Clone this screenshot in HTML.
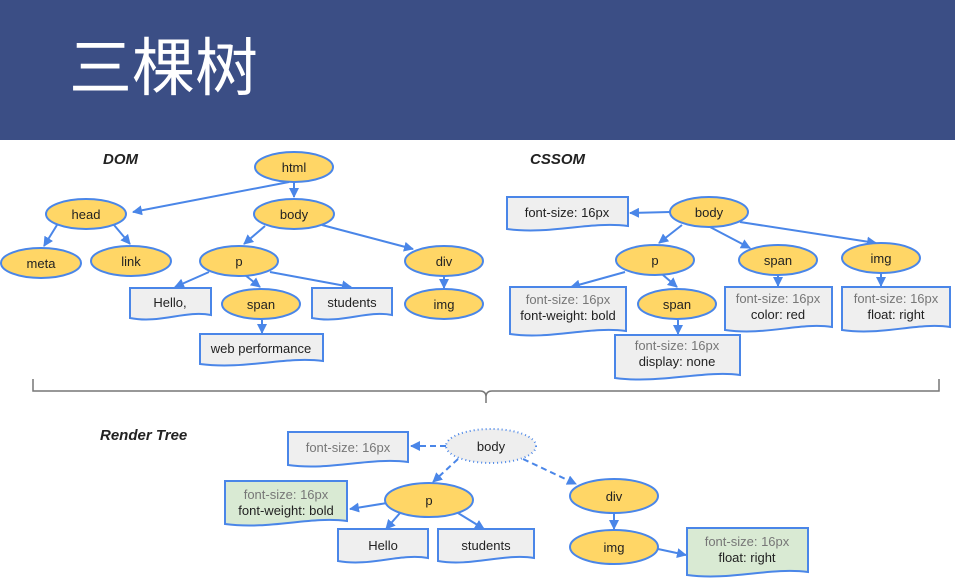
<!DOCTYPE html>
<html><head><meta charset="utf-8"><style>
html,body{margin:0;padding:0;background:#fff;}
svg{display:block;}
text{font-family:"Liberation Sans",Arial,sans-serif;}
</style></head><body>
<svg width="955" height="586" viewBox="0 0 955 586" xmlns="http://www.w3.org/2000/svg">
<defs>
<marker id="a" viewBox="0 0 10 10" refX="9" refY="5" markerWidth="5" markerHeight="5" orient="auto"><path d="M0,0 L10,5 L0,10 z" fill="#4a86e8"/></marker>
</defs>
<rect x="0" y="0" width="955" height="140" fill="#3b4e85"/>
<text x="69" y="90" font-size="63" fill="#fff" style="font-family:'Noto Sans CJK SC',sans-serif">三棵树</text>
<rect x="948" y="140" width="7" height="446" fill="#fff"/>

<g font-size="13" fill="#222" text-anchor="middle">
<g stroke="#4a86e8" stroke-width="2" fill="none" marker-end="url(#a)">
<line x1="289" y1="182" x2="133" y2="212"/>
<line x1="294" y1="182" x2="294" y2="197"/>
<line x1="57" y1="225" x2="44" y2="246"/>
<line x1="114" y1="225" x2="130" y2="244"/>
<line x1="265" y1="226" x2="244" y2="244"/>
<line x1="322" y1="225" x2="413" y2="249"/>
<line x1="209" y1="272" x2="175" y2="287"/>
<line x1="245" y1="275" x2="260" y2="287"/>
<line x1="270" y1="272" x2="351" y2="287"/>
<line x1="444" y1="276" x2="444" y2="288"/>
<line x1="262" y1="320" x2="262" y2="333"/>
<line x1="670" y1="212" x2="630" y2="213"/>
<line x1="682" y1="225" x2="659" y2="243"/>
<line x1="710" y1="227" x2="750" y2="248"/>
<line x1="740" y1="222" x2="876" y2="243"/>
<line x1="625" y1="272" x2="571" y2="287"/>
<line x1="663" y1="275" x2="677" y2="287"/>
<line x1="778" y1="275" x2="778" y2="286"/>
<line x1="881" y1="273" x2="881" y2="286"/>
<line x1="678" y1="320" x2="678" y2="334"/>
<line x1="446" y1="446" x2="411" y2="446" stroke-dasharray="6,4"/>
<line x1="458" y1="459" x2="433" y2="482" stroke-dasharray="6,4"/>
<line x1="523" y1="459" x2="576" y2="484" stroke-dasharray="6,4"/>
<line x1="387" y1="503" x2="350" y2="509"/>
<line x1="400" y1="513" x2="386" y2="529"/>
<line x1="458" y1="513" x2="484" y2="529"/>
<line x1="614" y1="513" x2="614" y2="529"/>
<line x1="658" y1="549" x2="686" y2="555"/>
</g>
<path d="M33,379 V391 H480 Q486,391 486,397 V403 M486,397 Q486,391 492,391 H939 V379" stroke="#777" stroke-width="1.5" fill="none"/>

<g font-style="italic" font-weight="bold" font-size="15" text-anchor="start" fill="#222">
<text x="103" y="164">DOM</text>
<text x="530" y="164">CSSOM</text>
<text x="100" y="440">Render Tree</text>
</g>

<g fill="#ffd666" stroke="#4a86e8" stroke-width="2">
<ellipse cx="294" cy="167" rx="39" ry="15"/>
<ellipse cx="86" cy="214" rx="40" ry="15"/>
<ellipse cx="294" cy="214" rx="40" ry="15"/>
<ellipse cx="41" cy="263" rx="40" ry="15"/>
<ellipse cx="131" cy="261" rx="40" ry="15"/>
<ellipse cx="239" cy="261" rx="39" ry="15"/>
<ellipse cx="444" cy="261" rx="39" ry="15"/>
<ellipse cx="261" cy="304" rx="39" ry="15"/>
<ellipse cx="444" cy="304" rx="39" ry="15"/>
<ellipse cx="709" cy="212" rx="39" ry="15"/>
<ellipse cx="655" cy="260" rx="39" ry="15"/>
<ellipse cx="778" cy="260" rx="39" ry="15"/>
<ellipse cx="881" cy="258" rx="39" ry="15"/>
<ellipse cx="677" cy="304" rx="39" ry="15"/>
<ellipse cx="429" cy="500" rx="44" ry="17"/>
<ellipse cx="614" cy="496" rx="44" ry="17"/>
<ellipse cx="614" cy="547" rx="44" ry="17"/>
</g>
<ellipse cx="491" cy="446" rx="45" ry="17" fill="#eee" stroke="#4a86e8" stroke-width="2" stroke-dasharray="1,3"/>

<g stroke="#4a86e8" stroke-width="2" fill="#efefef">
<path d="M130,288 H211 V315 C185,310 160,324 130,318 Z"/>
<path d="M312,288 H392 V315 C366,310 342,324 312,318 Z"/>
<path d="M200,334 H323 V361 C285,356 245,370 200,364 Z"/>
<path d="M507,197 H628 V226 C590,221 550,235 507,229 Z"/>
<path d="M510,287 H626 V331 C590,326 550,340 510,334 Z"/>
<path d="M725,287 H832 V327 C800,322 765,336 725,330 Z"/>
<path d="M842,287 H950 V327 C918,322 882,336 842,330 Z"/>
<path d="M615,335 H740 V375 C705,370 660,384 615,378 Z"/>
<path d="M288,432 H408 V462 C370,457 330,471 288,465 Z"/>
<path d="M338,529 H428 V558 C400,553 370,567 338,561 Z"/>
<path d="M438,529 H534 V558 C505,553 470,567 438,561 Z"/>
</g>
<g stroke="#4a86e8" stroke-width="2" fill="#d9ead3">
<path d="M225,481 H347 V521 C310,516 270,530 225,524 Z"/>
<path d="M687,528 H808 V572 C770,567 730,581 687,575 Z"/>
</g>

<text x="294" y="172">html</text>
<text x="86" y="219">head</text>
<text x="294" y="219">body</text>
<text x="41" y="268">meta</text>
<text x="131" y="266">link</text>
<text x="239" y="266">p</text>
<text x="444" y="266">div</text>
<text x="261" y="309">span</text>
<text x="444" y="309">img</text>
<text x="170" y="307">Hello,</text>
<text x="352" y="307">students</text>
<text x="261" y="353">web performance</text>

<text x="709" y="217">body</text>
<text x="655" y="265">p</text>
<text x="778" y="265">span</text>
<text x="881" y="263">img</text>
<text x="677" y="309">span</text>
<text x="567" y="217">font-size: 16px</text>
<text x="568" y="304" fill="#777">font-size: 16px</text>
<text x="568" y="320">font-weight: bold</text>
<text x="778" y="303" fill="#777">font-size: 16px</text>
<text x="778" y="319">color: red</text>
<text x="896" y="303" fill="#777">font-size: 16px</text>
<text x="896" y="319">float: right</text>
<text x="677" y="350" fill="#777">font-size: 16px</text>
<text x="677" y="366">display: none</text>

<text x="491" y="451">body</text>
<text x="348" y="452" fill="#777">font-size: 16px</text>
<text x="286" y="499" fill="#777">font-size: 16px</text>
<text x="286" y="515">font-weight: bold</text>
<text x="429" y="505">p</text>
<text x="383" y="550">Hello</text>
<text x="486" y="550">students</text>
<text x="614" y="501">div</text>
<text x="614" y="552">img</text>
<text x="747" y="546" fill="#777">font-size: 16px</text>
<text x="747" y="562">float: right</text>
</g>
</svg>
</body></html>
